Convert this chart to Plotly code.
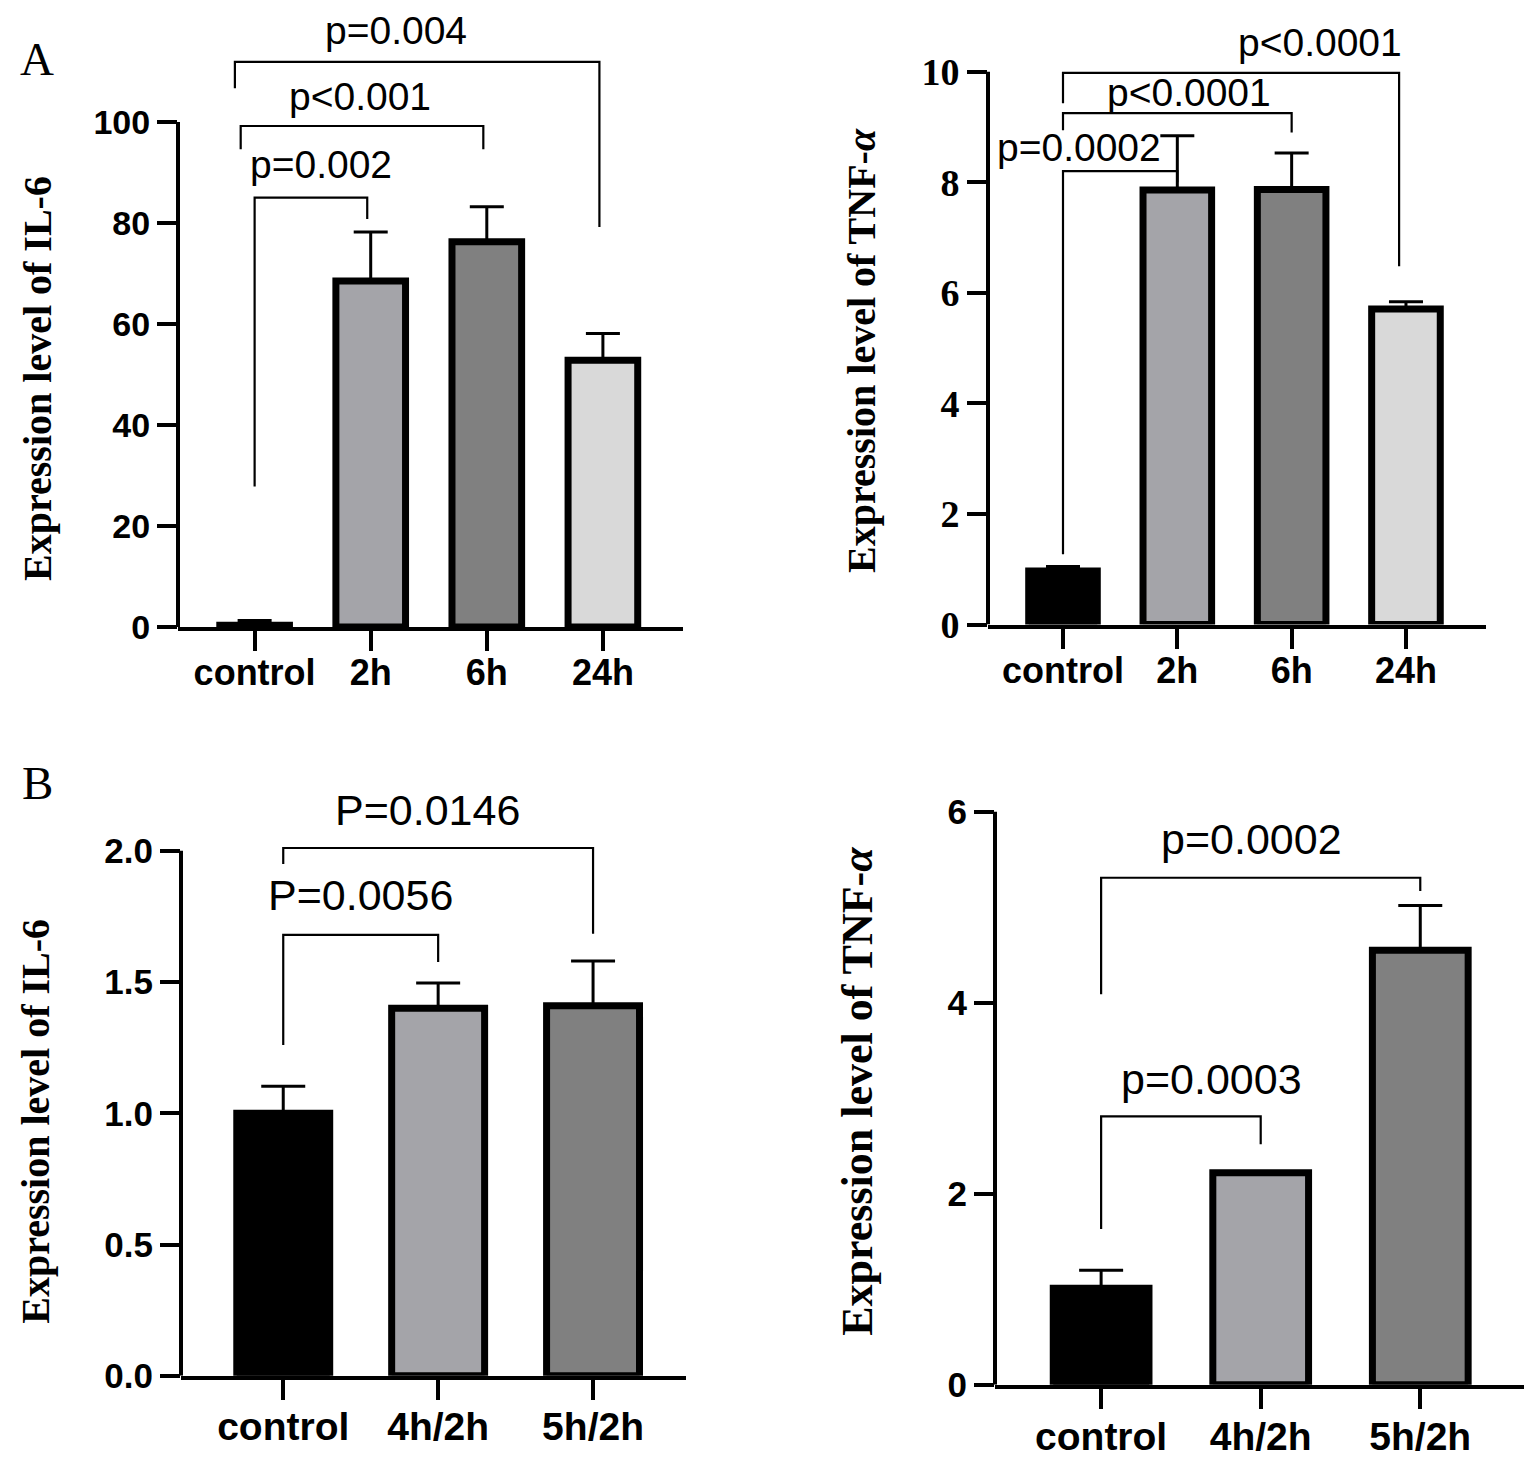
import plotly.graph_objects as go

# ---- data ----
a_groups = ["control", "2h", "6h", "24h"]
a_il6_mean = [0.3, 68.5, 76.3, 52.8]
a_il6_err_top = [1.25, 78.2, 83.2, 58.1]
a_tnf_mean = [0.97, 7.86, 7.87, 5.71]
a_tnf_err_top = [1.05, 8.84, 8.53, 5.84]

b_groups = ["control", "4h/2h", "5h/2h"]
b_il6_mean = [1.0, 1.40, 1.41]
b_il6_err_top = [1.103, 1.497, 1.58]
b_tnf_mean = [1.01, 2.22, 4.55]
b_tnf_err_top = [1.20, 2.22, 5.02]

a_colors = ["#000000", "#a4a4a9", "#808080", "#d9d9d9"]
b_colors = ["#000000", "#a4a4a9", "#808080"]

# significance brackets: text, left x, right x, bar height, left/right leg ends, label pos
a_il6_pvals = ["p=0.002", "p<0.001", "p=0.004"]
a_il6_br_x0 = [0, -0.12, -0.17]
a_il6_br_x1 = [0.97, 1.97, 2.97]
a_il6_br_y = [85, 99.2, 111.9]
a_il6_br_left = [27.8, 94.6, 106.7]
a_il6_br_right = [80.8, 94.6, 79.2]
a_il6_lab_x = [0.57, 0.91, 1.22]
a_il6_lab_y = [91.5, 105.1, 118.2]

a_tnf_pvals = ["p=0.0002", "p<0.0001", "p<0.0001"]
a_tnf_br_x0 = [0, 0, 0]
a_tnf_br_x1 = [1.0, 2.0, 2.94]
a_tnf_br_y = [8.2, 9.25, 9.98]
a_tnf_br_left = [1.27, 8.94, 9.43]
a_tnf_br_right = [8.0, 8.9, 6.48]
a_tnf_lab_x = [0.14, 1.10, 2.25]
a_tnf_lab_y = [8.62, 9.63, 10.53]

b_il6_pvals = ["P=0.0056", "P=0.0146"]
b_il6_br_x0 = [0, 0]
b_il6_br_x1 = [1.0, 2.0]
b_il6_br_y = [1.68, 2.011]
b_il6_br_left = [1.26, 1.95]
b_il6_br_right = [1.577, 1.684]
b_il6_lab_x = [0.50, 0.93]
b_il6_lab_y = [1.83, 2.155]

b_tnf_pvals = ["p=0.0003", "p=0.0002"]
b_tnf_br_x0 = [0, 0]
b_tnf_br_x1 = [1.0, 2.0]
b_tnf_br_y = [2.81, 5.31]
b_tnf_br_left = [1.63, 4.09]
b_tnf_br_right = [2.52, 5.17]
b_tnf_lab_x = [0.69, 0.94]
b_tnf_lab_y = [3.2, 5.72]

# the captured page comes back slightly squeezed vertically, so lay out taller
SY = 0.986
W, H = 1535, round(1460 / SY)
SANS = "Liberation Sans, Arial, sans-serif"
SERIF = "Liberation Serif, Times New Roman, serif"


def px(x):
    return x / W


def py(y):
    return 1 - (y / SY) / H


fig = go.Figure()


def add_panel(n, groups, mean, err_top, colors, pvals, bx0, bx1, by, bl, br, lx, ly,
              xdom, ydom, xrange, yrange, tickvals, tickfmt, tickfamily, ticksize,
              xlabsize, xstandoff, plabsize, capw):
    xa = "x" if n == 1 else "x%d" % n
    ya = "y" if n == 1 else "y%d" % n
    pos = list(range(len(groups)))
    fig.add_trace(go.Bar(
        x=pos, y=mean, width=0.6, xaxis=xa, yaxis=ya,
        marker=dict(color=colors, line=dict(color="black", width=7)),
        error_y=dict(type="data", symmetric=False,
                     array=[t - m for t, m in zip(err_top, mean)],
                     arrayminus=[0] * len(mean),
                     color="black", thickness=3, width=capw),
        showlegend=False, hoverinfo="skip"))
    bxs, bys = [], []
    for i in range(len(pvals)):
        bxs += [bx0[i], bx0[i], bx1[i], bx1[i], None]
        bys += [bl[i], by[i], by[i], br[i], None]
    fig.add_trace(go.Scatter(x=bxs, y=bys, mode="lines", xaxis=xa, yaxis=ya,
                             line=dict(color="black", width=2.2),
                             showlegend=False, hoverinfo="skip"))
    for i in range(len(pvals)):
        fig.add_annotation(x=lx[i], y=ly[i], xref=xa, yref=ya, text=pvals[i],
                           showarrow=False, xanchor="center", yanchor="middle",
                           font=dict(family=SANS, size=plabsize, color="black"))
    axx = "xaxis" if n == 1 else "xaxis%d" % n
    axy = "yaxis" if n == 1 else "yaxis%d" % n
    fig.update_layout(**{
        axx: dict(domain=xdom, range=xrange, anchor=ya, tickvals=pos, ticktext=groups,
                  showline=True, linewidth=4, linecolor="black", ticks="outside",
                  ticklen=20, tickwidth=4, tickcolor="black", showgrid=False,
                  zeroline=False, ticklabelstandoff=xstandoff,
                  tickfont=dict(family=SANS, size=xlabsize, color="black", weight="bold")),
        axy: dict(domain=ydom, range=yrange, anchor=xa, tickvals=tickvals,
                  tickformat=tickfmt, showline=False, ticks="outside", ticklen=20,
                  tickwidth=4, tickcolor="black", showgrid=False, zeroline=False,
                  tickfont=dict(family=tickfamily, size=ticksize, color="black",
                                weight="bold")),
    })
    fig.add_shape(type="line", xref=xa + " domain", yref=ya, x0=0, x1=0,
                  y0=0, y1=tickvals[-1], line=dict(color="black", width=4))


add_panel(1, a_groups, a_il6_mean, a_il6_err_top, a_colors, a_il6_pvals,
          a_il6_br_x0, a_il6_br_x1, a_il6_br_y, a_il6_br_left, a_il6_br_right,
          a_il6_lab_x, a_il6_lab_y,
          [px(178), px(683)], [py(627), py(21)], [-0.66, 3.69], [0, 120],
          [0, 20, 40, 60, 80, 100], "d", SANS, 34, 36, -9, 39, 17)

add_panel(2, a_groups, a_tnf_mean, a_tnf_err_top, a_colors, a_tnf_pvals,
          a_tnf_br_x0, a_tnf_br_x1, a_tnf_br_y, a_tnf_br_left, a_tnf_br_right,
          a_tnf_lab_x, a_tnf_lab_y,
          [px(988), px(1486)], [py(624.7), py(16.4)], [-0.656, 3.70], [0, 11],
          [0, 2, 4, 6, 8, 10], "d", SERIF, 38, 36, -9, 39, 17)

add_panel(3, b_groups, b_il6_mean, b_il6_err_top, b_colors, b_il6_pvals,
          b_il6_br_x0, b_il6_br_x1, b_il6_br_y, b_il6_br_left, b_il6_br_right,
          b_il6_lab_x, b_il6_lab_y,
          [px(181), px(686)], [py(1376), py(785.4)], [-0.66, 2.6], [0, 2.25],
          [0, 0.5, 1.0, 1.5, 2.0], ".1f", SANS, 35, 39, -7, 43, 22)

add_panel(4, b_groups, b_tnf_mean, b_tnf_err_top, b_colors, b_tnf_pvals,
          b_tnf_br_x0, b_tnf_br_x1, b_tnf_br_y, b_tnf_br_left, b_tnf_br_right,
          b_tnf_lab_x, b_tnf_lab_y,
          [px(995), px(1524)], [py(1385), py(792.9)], [-0.665, 2.65], [0, 6.2],
          [0, 2, 4, 6], "d", SANS, 35, 39, -6, 43, 22)

# y-axis titles and panel letters
titles = ["Expression level of IL-6", "Expression level of TNF-<i>α</i>",
          "Expression level of IL-6", "Expression level of TNF-<i>α</i>"]
title_pos = [(38, 379, 40), (862, 351, 40), (36, 1122, 40), (858, 1092, 44)]
for t, (tx, ty, sz) in zip(titles, title_pos):
    fig.add_annotation(x=px(tx), y=py(ty), xref="paper", yref="paper", text=t,
                       textangle=-90, showarrow=False, xanchor="center",
                       yanchor="middle",
                       font=dict(family=SERIF, size=sz, color="black", weight="bold"))

for letter, (tx, ty) in zip(["A", "B"], [(37, 59), (37, 783)]):
    fig.add_annotation(x=px(tx), y=py(ty), xref="paper", yref="paper", text=letter,
                       showarrow=False, xanchor="center", yanchor="middle",
                       font=dict(family=SERIF, size=47, color="black"))

fig.update_layout(width=W, height=H, margin=dict(l=0, r=0, t=0, b=0),
                  paper_bgcolor="white", plot_bgcolor="white")

# drop the default 8px body margin so the figure sits at the page origin
fig.write_html("out.html", config={"displayModeBar": False},
               post_script="document.body.style.margin='0';"
                           "document.body.style.overflow='hidden';")
